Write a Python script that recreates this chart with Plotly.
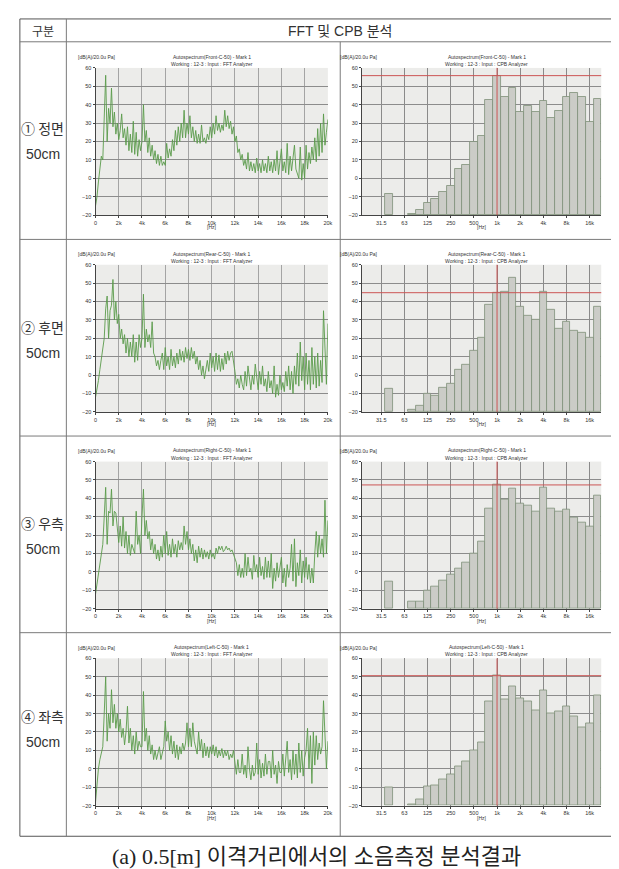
import plotly.graph_objects as go

FIG_W, FIG_H = 619, 869

# ---------------- data ----------------
row_labels = ["① 정면", "② 후면", "③ 우측", "④ 좌측"]
distance_label = "50cm"
positions = ["Front", "Rear", "Right", "Left"]

header_left = "구분"
header_right = "FFT 및 CPB 분석"
caption = "(a) 0.5[m] 이격거리에서의 소음측정 분석결과"

# FFT analyzer bins (0.125 kHz spacing, 0 - 20 kHz)
fft_bin_hz = 125
fft_freq_hz = [i * fft_bin_hz for i in range(161)]
fft_tick_vals = [0, 2000, 4000, 6000, 8000, 10000, 12000, 14000, 16000, 18000, 20000]
fft_tick_text = ["0", "2k", "4k", "6k", "8k", "10k", "12k", "14k", "16k", "18k", "20k"]

fft_front = [
    -15, -10, -2, 4, 12, 10, 40, 56, 20, 38,
    30, 49, 28, 36, 24, 30, 21, 26, 35, 22,
    27, 18, 28, 15, 24, 14, 31, 13, 25, 12,
    21, 15, 20, 40, 20, 26, 14, 22, 12, 18,
    10, 15, 8, 13, 7, 12, 7, 9, 7, 19,
    11, 16, 12, 21, 15, 26, 18, 28, 20, 30,
    22, 37, 22, 30, 24, 34, 22, 28, 20, 26,
    19, 24, 19, 29, 20, 22, 19, 24, 21, 28,
    22, 30, 24, 34, 26, 30, 25, 29, 26, 37,
    28, 34, 27, 31, 24, 28, 20, 23, 14, 16,
    10, 13, 7, 10, 5, 14, 4, 9, 4, 8,
    3, 11, 4, 8, 3, 10, 4, 8, 3, 12,
    4, 9, 3, 10, 4, 15, 2, 10, 16, 4,
    9, 3, 19, 2, 12, 4, 10, 18, 5, 2,
    0, 17, -1, 8, 0, 18, 5, 14, 8, 17,
    10, 22, 9, 27, 12, 30, 14, 35, 18, 25,
    32,
]
fft_rear = [
    -12, -8, -3, 3, 9, 16, 20, 36, 43, 20,
    35, 38, 52, 30, 40, 28, 33, 20, 25, 17,
    22, 12, 20, 10, 18, 10, 22, 7, 18, 8,
    22, 15, 20, 44, 15, 25, 18, 22, 15, 29,
    12, 10, 5, 8, 3, 8, 12, 3, 15, 5,
    10, 3, 14, 5, 10, 4, 12, 6, 14, 8,
    13, 7, 15, 9, 14, 8, 15, 9, 13, 6,
    10, 3, 8, 0, 5, -2, 3, 8, 2, 12,
    4, 10, 2, 12, 3, 11, 2, 9, 3, 12,
    6, 13, 8, 12, 13, 8, 2, -5, -2, -7,
    0, -5, -8, 2, -6, 5, -3, -8, 0, -5,
    6, -3, -8, 2, -5, 5, -6, -2, -9, 2,
    -7, -3, -10, 5, -12, -5, -11, 0, -8, -4,
    -9, 2, -6, 5, -8, 2, -10, 5, -5, 12,
    -6, 18, -3, 10, -8, 12, -5, 8, -8, 15,
    -5, 10, -7, 12, -6, 8, -4, 35, 10, -5,
    28,
]
fft_right = [
    -12, -7, -2, 4, 10, 15, 30, 46, 15, 33,
    32, 45, 25, 33, 32, 22, 16, 25, 14, 30,
    13, 22, 10, 20, 9, 15, 12, 10, 33, 15,
    20, 10, 30, 45, 20, 28, 18, 22, 12, 18,
    10, 15, 7, 12, 6, 14, 8, 20, 10, 22,
    9, 15, 8, 18, 10, 15, 8, 17, 12, 16,
    12, 25, 15, 22, 12, 18, 10, 15, 6, 12,
    5, 14, 8, 13, 7, 12, 8, 11, 7, 12,
    8, 10, 7, 13, 10, 14, 12, 14, 11, 12,
    14, 12, 13, 11, 12, 10, 8, 5, -2, 4,
    -3, 2, -3, 10, -2, 8, 0, 2, -4, 9,
    0, 4, -3, 8, -2, 3, -4, 8, -3, 6,
    -3, 10, -9, 2, -5, 5, -3, 4, 8, -6,
    2, -8, 4, -3, 2, 15, -5, 18, -8, 5,
    -2, 12, -6, 6, -3, 8, -4, 4, -6, 2,
    -6, 10, 22, 8, 20, 10, 18, 8, 39, 10,
    28,
]
fft_left = [
    -18, -8, 0, 5, 8, 12, 30, 50, 15, 30,
    22, 43, 25, 35, 22, 30, 20, 27, 17, 22,
    13, 20, 34, 14, 22, 10, 18, 8, 20, 10,
    15, 12, 12, 42, 15, 22, 10, 18, 8, 13,
    5, 10, 5, 8, 12, 5, 8, 12, 26, 15,
    20, 10, 18, 8, 15, 6, 13, 5, 12, 8,
    14, 10, 14, 25, 12, 22, 12, 25, 15, 12,
    8, 20, 10, 16, 6, 14, 7, 12, 6, 12,
    8, 13, 7, 12, 6, 10, 7, 11, 6, 10,
    7, 10, 5, 8, 6, 10, 3, -3, 5, -2,
    -2, 8, -3, 2, -5, 12, 0, -6, 2, -4,
    -2, 14, -3, 5, -5, 3, -4, 8, -3, 4,
    4, -5, 10, -3, 2, -8, 4, -2, -2, 8,
    -4, 8, 15, -2, 5, -6, 10, -3, 8, -5,
    14, -2, 10, -4, 6, 10, 22, 0, 18, -8,
    20, 2, 18, 5, 14, 8, 12, 37, 15, 0,
    15,
]
fft_levels = [fft_front, fft_rear, fft_right, fft_left]

# CPB 1/3-octave bands
cpb_bands = ["20", "25", "31.5", "40", "50", "63", "80", "100", "125", "160",
             "200", "250", "315", "400", "500", "630", "800", "1k", "1.25k", "1.6k",
             "2k", "2.5k", "3.15k", "4k", "5k", "6.3k", "8k", "10k", "12.5k", "16k", "20k"]
cpb_tick_labels = ["31.5", "63", "125", "250", "500", "1k", "2k", "4k", "8k", "16k"]
cpb_cursor_band = "1k"

cpb_front = [None, None, None, -8.5, None, None, -19.5, -17.1, -13.5, -11.2,
             -7.6, -4.0, 5.0, 7.2, 19.8, 23.0, 42.6, 55.8, 44.1, 49.1,
             36.0, 39.6, 36.0, 42.3, 32.9, 36.5, 44.4, 46.4, 44.1, 30.9, 43.2]
cpb_rear = [None, None, None, -7.2, None, None, -18.6, -16.8, -10.3, -11.4,
            -6.7, -4.5, 3.1, 5.4, 13.5, 20.4, 38.3, 44.8, 45.1, 52.9,
            37.0, 32.1, 30.1, 45.5, 35.6, 25.3, 28.9, 24.0, 22.9, 20.4, 37.0]
cpb_right = [None, None, None, -5.4, None, None, -16.3, -16.1, -10.0, -8.2,
             -4.9, -1.6, 1.8, 5.1, 10.0, 16.5, 34.6, 47.3, 39.5, 45.3,
             37.3, 36.2, 32.6, 45.8, 34.4, 32.6, 33.7, 29.5, 26.8, 24.6, 41.3]
cpb_left = [None, None, None, -10.1, None, None, -19.5, -16.4, -9.7, -9.2,
            -5.9, -2.9, 1.1, 4.0, 10.1, 14.6, 36.6, 50.6, 37.7, 44.9,
            38.0, 36.4, 31.9, 42.5, 29.9, 31.4, 34.1, 28.6, 22.7, 24.5, 40.0]
cpb_levels = [cpb_front, cpb_rear, cpb_right, cpb_left]

y_ticks = [-20, -10, 0, 10, 20, 30, 40, 50, 60]
Y_MIN, Y_MAX = -20, 60

# ---------------- layout helpers ----------------
def px(x):
    return x / FIG_W

def py(y):
    return 1 - y / FIG_H

row_top = [57.3, 255.5, 453.7, 651.9]
plot_h = 148.2
fft_dom = (86.5, 321.5)
cpb_dom = (356.0, 598.0)
label_y = [118, 318, 516, 710]

tick_font = dict(family="Liberation Sans", size=5.5, color="#333333")
small_font = dict(family="Liberation Sans", size=5, color="#333333")

fig = go.Figure()
layout = {}
annotations = []
shapes = []


def name(base, n):
    return base if n == 1 else f"{base}{n}"


def ref(base, n):
    return base[0] if n == 1 else f"{base[0]}{n}"


for r in range(4):
    nf, nc = 2 * r + 1, 2 * r + 2
    ydom = [py(row_top[r] + plot_h), py(row_top[r])]
    dy = row_top[r] - row_top[0]

    # FFT line
    fig.add_trace(go.Scatter(
        x=fft_freq_hz, y=fft_levels[r], mode="lines",
        line=dict(color="#5a9b4b", width=0.9),
        xaxis=ref("x", nf), yaxis=ref("y", nf),
        showlegend=False, hoverinfo="skip"))

    # CPB bars (drawn from the bottom of the scale)
    fig.add_trace(go.Bar(
        x=cpb_bands,
        y=[None if v is None else v - Y_MIN for v in cpb_levels[r]],
        base=Y_MIN,
        marker=dict(color="#cbccc7", line=dict(color="#7f9178", width=0.8)),
        xaxis=ref("x", nc), yaxis=ref("y", nc),
        showlegend=False, hoverinfo="skip"))

    common_y = dict(range=[Y_MIN, Y_MAX], tickvals=y_ticks, tickfont=tick_font,
                    showgrid=True, gridcolor="#8c8c8c", gridwidth=0.8,
                    zeroline=False, showline=True, linecolor="#444444", linewidth=1,
                    ticks="outside", ticklen=2, tickcolor="#444444", fixedrange=True,
                    domain=ydom)
    layout[name("yaxis", nf)] = dict(common_y, anchor=ref("x", nf))
    layout[name("yaxis", nc)] = dict(common_y, anchor=ref("x", nc))

    layout[name("xaxis", nf)] = dict(
        domain=[px(fft_dom[0]), px(fft_dom[1])], anchor=ref("y", nf),
        range=[0, 20000], tickvals=fft_tick_vals, ticktext=fft_tick_text,
        tickfont=tick_font, showgrid=True, gridcolor="#a4a4a4", gridwidth=0.8,
        zeroline=False, showline=True, linecolor="#444444", linewidth=1,
        ticks="outside", ticklen=2, tickcolor="#444444", fixedrange=True)
    layout[name("xaxis", nc)] = dict(
        domain=[px(cpb_dom[0]), px(cpb_dom[1])], anchor=ref("y", nc),
        type="category", range=[-0.5, len(cpb_bands) - 0.5],
        tickvals=cpb_tick_labels, ticktext=cpb_tick_labels,
        tickfont=tick_font, showgrid=True, gridcolor="#8a8a8a", gridwidth=0.8,
        zeroline=False, showline=True, linecolor="#444444", linewidth=1,
        ticks="outside", ticklen=2, tickcolor="#444444", fixedrange=True)

    # red cursor lines at the 1k band
    ci = cpb_bands.index(cpb_cursor_band)
    cv = cpb_levels[r][ci]
    shapes.append(dict(type="line", xref=ref("x", nc), yref=ref("y", nc) + " domain",
                       x0=ci, x1=ci, y0=0, y1=1,
                       line=dict(color="#cc5555", width=1), layer="above"))
    shapes.append(dict(type="line", xref=ref("x", nc) + " domain", yref=ref("y", nc),
                       x0=0, x1=1, y0=cv, y1=cv,
                       line=dict(color="#cc5555", width=1), layer="above"))

    # chart texts
    for cx, unit_x, kind in [((fft_dom[0] + fft_dom[1]) / 2, 67, "FFT"),
                             ((cpb_dom[0] + cpb_dom[1]) / 2 + 5, 332, "CPB")]:
        annotations.append(dict(x=px(unit_x), y=py(46.7 + dy), xref="paper", yref="paper",
                                text="[dB(A)/20.0u Pa]", showarrow=False,
                                xanchor="left", yanchor="middle", font=small_font))
        annotations.append(dict(x=px(cx), y=py(46.0 + dy), xref="paper", yref="paper",
                                text=f"Autospectrum({positions[r]}-C-50) - Mark 1",
                                showarrow=False, xanchor="center", yanchor="middle",
                                font=small_font))
        annotations.append(dict(x=px(cx), y=py(53.3 + dy), xref="paper", yref="paper",
                                text=f"Working : 12-3 : Input : {kind} Analyzer",
                                showarrow=False, xanchor="center", yanchor="middle",
                                font=small_font))
        annotations.append(dict(x=px(cx - 5 if kind == "CPB" else cx), y=py(218 + dy),
                                xref="paper", yref="paper", text="[Hz]", showarrow=False,
                                xanchor="center", yanchor="middle", font=small_font))

    # row labels
    annotations.append(dict(x=px(33), y=py(label_y[r]), xref="paper", yref="paper",
                            text=row_labels[r], showarrow=False, xanchor="center",
                            yanchor="middle",
                            font=dict(family="Noto Sans CJK KR", size=14, color="#333333")))
    annotations.append(dict(x=px(33), y=py(label_y[r] + 26), xref="paper", yref="paper",
                            text=distance_label, showarrow=False, xanchor="center",
                            yanchor="middle",
                            font=dict(family="Liberation Sans", size=14, color="#333333")))

# header + caption
annotations.append(dict(x=px(33), y=py(20), xref="paper", yref="paper", text=header_left,
                        showarrow=False, xanchor="center", yanchor="middle",
                        font=dict(family="Noto Sans CJK KR", size=12, color="#333333")))
annotations.append(dict(x=px(334), y=py(20), xref="paper", yref="paper", text=header_right,
                        showarrow=False, xanchor="center", yanchor="middle",
                        font=dict(family="Liberation Sans, Noto Sans CJK KR", size=14,
                                  color="#333333")))
annotations.append(dict(x=px(310), y=py(851), xref="paper", yref="paper", text=caption,
                        showarrow=False, xanchor="center", yanchor="middle",
                        font=dict(family="Liberation Serif, Noto Sans CJK KR", size=22,
                                  color="#222222")))

# table lines
def hline(y, x0, x1, color="#7a7a7a"):
    shapes.append(dict(type="line", xref="paper", yref="paper", x0=px(x0), x1=px(x1),
                       y0=py(y), y1=py(y), line=dict(color=color, width=1)))


def vline(x, y0, y1, color="#7a7a7a"):
    shapes.append(dict(type="line", xref="paper", yref="paper", x0=px(x), x1=px(x),
                       y0=py(y0), y1=py(y1), line=dict(color=color, width=1)))

T_L, T_R, T_T, T_B = 10, 609, 8, 831
hline(T_T, T_L, T_R, "#555555")
hline(T_B, T_L, T_R, "#555555")
vline(T_L, T_T, T_B, "#555555")
vline(T_R, T_T, T_B, "#555555")
for yy in [31, 230, 428, 626]:
    hline(yy, T_L, T_R)
vline(57, T_T, T_B)
vline(334, 31, T_B)

layout.update(dict(
    width=FIG_W, height=FIG_H, autosize=False,
    margin=dict(l=0, r=0, t=0, b=0),
    paper_bgcolor="white", plot_bgcolor="#ececea",
    bargap=0, showlegend=False,
    annotations=annotations, shapes=shapes,
))
fig.update_layout(**layout)
fig.write_html("out.html")
